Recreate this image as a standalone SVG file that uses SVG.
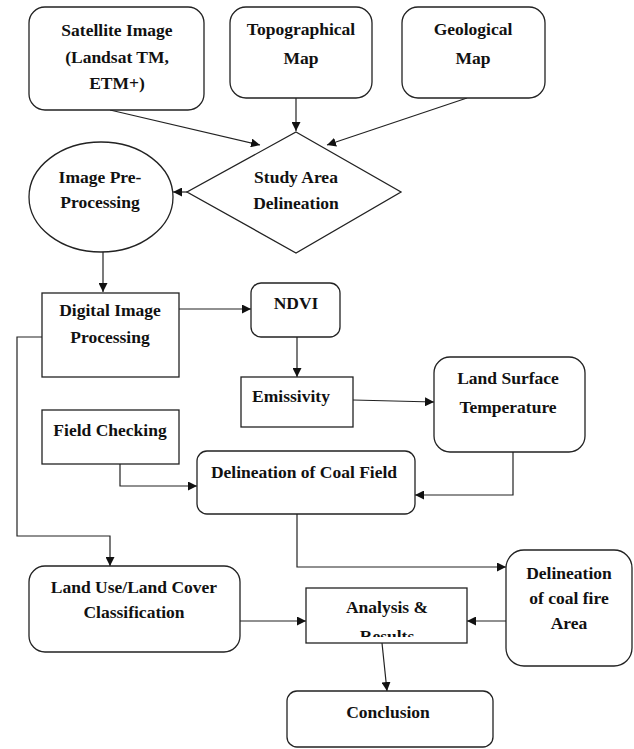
<svg xmlns="http://www.w3.org/2000/svg" width="634" height="749" viewBox="0 0 634 749">
<style>
.n{fill:#fff;stroke:#222;stroke-width:1.3}
.c{fill:none;stroke:#222;stroke-width:1.2}
.t{font-family:'Liberation Serif',serif;font-weight:bold;font-size:17.5px;fill:#111;text-anchor:middle}
</style>
<defs>
<marker id="a" viewBox="0 0 10 10" refX="10" refY="5" markerWidth="9" markerHeight="9" markerUnits="userSpaceOnUse" orient="auto">
<path d="M0,0 L10,5 L0,10 z" fill="#111"/>
</marker>
<clipPath id="ar"><rect x="306" y="588" width="161" height="49"/></clipPath>
</defs>
<rect width="634" height="749" fill="#fff"/>
<g id="connectors">
<line class="c" x1="110" y1="110" x2="260" y2="145" marker-end="url(#a)"/>
<line class="c" x1="296" y1="98" x2="296" y2="131" marker-end="url(#a)"/>
<line class="c" x1="467" y1="98" x2="327" y2="145" marker-end="url(#a)"/>
<line class="c" x1="187" y1="192" x2="173" y2="192" marker-end="url(#a)"/>
<line class="c" x1="103" y1="252" x2="103" y2="292" marker-end="url(#a)"/>
<line class="c" x1="179" y1="309" x2="251" y2="309" marker-end="url(#a)"/>
<line class="c" x1="297" y1="337" x2="297" y2="377" marker-end="url(#a)"/>
<line class="c" x1="353" y1="400" x2="434" y2="402" marker-end="url(#a)"/>
<polyline class="c" points="120,464 120,486 197,486" marker-end="url(#a)"/>
<polyline class="c" points="513,452 513,495 415,495" marker-end="url(#a)"/>
<polyline class="c" points="42,337 17,337 17,536 110,536 110,566" marker-end="url(#a)"/>
<polyline class="c" points="297,514 297,567 506,567" marker-end="url(#a)"/>
<line class="c" x1="240" y1="621" x2="306" y2="621" marker-end="url(#a)"/>
<line class="c" x1="506" y1="621" x2="467" y2="621" marker-end="url(#a)"/>
<line class="c" x1="382" y1="643" x2="387" y2="691" marker-end="url(#a)"/>
</g>
<g id="satellite"><rect class="n" x="29" y="7" width="175" height="103" rx="16"/>
<text class="t" x="117" y="36">Satellite Image</text><text class="t" x="117" y="63">(Landsat TM,</text><text class="t" x="117" y="89">ETM+)</text></g>
<g id="topographical"><rect class="n" x="230" y="7" width="142" height="91" rx="16"/>
<text class="t" x="301" y="35">Topographical</text><text class="t" x="301" y="64">Map</text></g>
<g id="geological"><rect class="n" x="402" y="7" width="143" height="91" rx="16"/>
<text class="t" x="473" y="35">Geological</text><text class="t" x="473" y="64">Map</text></g>
<g id="study-area"><polygon class="n" points="296,132 401,192 296,253 187,192"/>
<text class="t" x="296" y="183">Study Area</text><text class="t" x="296" y="209">Delineation</text></g>
<g id="pre-processing"><ellipse class="n" cx="101" cy="197" rx="72" ry="55"/>
<text class="t" x="100" y="183">Image Pre-</text><text class="t" x="100" y="208">Processing</text></g>
<g id="digital-image"><rect class="n" x="42" y="293" width="137" height="84"/>
<text class="t" x="110" y="316">Digital Image</text><text class="t" x="110" y="343">Processing</text></g>
<g id="ndvi"><rect class="n" x="251" y="283" width="89" height="54" rx="10"/>
<text class="t" x="296" y="309">NDVI</text></g>
<g id="emissivity"><rect class="n" x="241" y="377" width="112" height="50"/>
<text class="t" x="291" y="402">Emissivity</text></g>
<g id="lst"><rect class="n" x="434" y="357" width="151" height="95" rx="16"/>
<text class="t" x="508" y="384">Land Surface</text><text class="t" x="508" y="413">Temperature</text></g>
<g id="field-checking"><rect class="n" x="42" y="410" width="137" height="54"/>
<text class="t" x="110" y="436">Field Checking</text></g>
<g id="coal-field"><rect class="n" x="197" y="451" width="218" height="63" rx="10"/>
<text class="t" x="304" y="478">Delineation of Coal Field</text></g>
<g id="land-use"><rect class="n" x="29" y="566" width="211" height="86" rx="16"/>
<text class="t" x="134" y="593">Land Use/Land Cover</text><text class="t" x="134" y="618">Classification</text></g>
<g id="coal-fire"><rect class="n" x="506" y="550" width="126" height="116" rx="18"/>
<text class="t" x="569" y="579">Delineation</text><text class="t" x="569" y="604">of coal fire</text><text class="t" x="569" y="629">Area</text></g>
<g id="analysis"><rect class="n" x="306" y="588" width="161" height="55"/>
<g clip-path="url(#ar)"><text class="t" x="387" y="613">Analysis &amp;</text><text class="t" x="387" y="642">Results</text></g></g>
<g id="conclusion"><rect class="n" x="287" y="691" width="206" height="56" rx="10"/>
<text class="t" x="388" y="718">Conclusion</text></g>
</svg>
